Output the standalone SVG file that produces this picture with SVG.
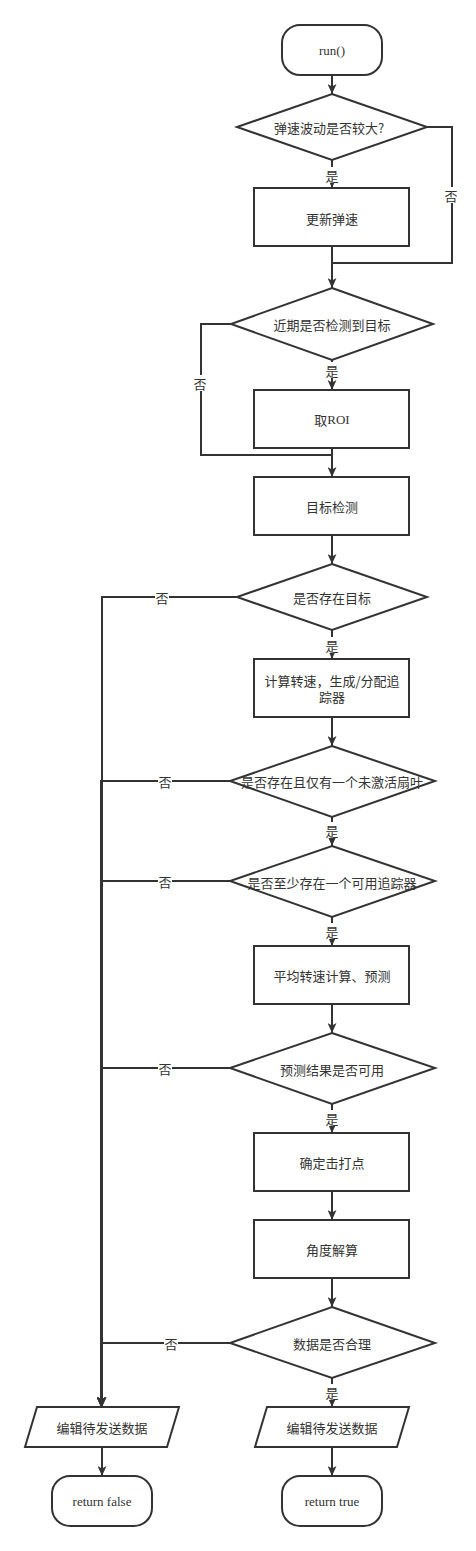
<svg xmlns="http://www.w3.org/2000/svg" width="476" height="1551" viewBox="0 0 476 1551">
<style>
.s{fill:#fff;stroke:#333;stroke-width:2}
.t{font-family:"Noto Sans CJK SC","Noto Sans",sans-serif;font-size:13px;fill:#333;text-anchor:middle;dominant-baseline:central}
.r{font-family:"Liberation Serif",serif;font-size:13px;fill:#333;text-anchor:middle;dominant-baseline:central}
.c{fill:none;stroke:#333;stroke-width:2}
.lb{fill:#fff}
</style>
<defs>
<marker id="a" viewBox="0 0 10 9" refX="10" refY="4.5" markerWidth="10" markerHeight="9" markerUnits="userSpaceOnUse" orient="auto">
<path d="M0,0 L10,4.5 L0,9 L2.5,4.5 z" fill="#333"/>
</marker>
</defs>
<rect width="476" height="1551" fill="#fff"/>
<g id="connectors">
<path class="c" d="M332,75 V94" marker-end="url(#a)"/>
<path class="c" d="M332,160 V188" marker-end="url(#a)"/>
<path class="c" d="M427,127 H452 V263 H332"/>
<path class="c" d="M332,246 V288" marker-end="url(#a)"/>
<path class="c" d="M332,360 V390" marker-end="url(#a)"/>
<path class="c" d="M231,324 H201 V455 H332"/>
<path class="c" d="M332,448 V477" marker-end="url(#a)"/>
<path class="c" d="M332,535 V564" marker-end="url(#a)"/>
<path class="c" d="M237,597 H102 V1407" marker-end="url(#a)"/>
<path class="c" d="M332,630 V659" marker-end="url(#a)"/>
<path class="c" d="M332,717 V746" marker-end="url(#a)"/>
<path class="c" d="M230,781 H101 V1407" marker-end="url(#a)"/>
<path class="c" d="M332,817 V846" marker-end="url(#a)"/>
<path class="c" d="M230,881 H101 V1407" marker-end="url(#a)"/>
<path class="c" d="M332,917 V946" marker-end="url(#a)"/>
<path class="c" d="M332,1004 V1033" marker-end="url(#a)"/>
<path class="c" d="M230,1068 H101 V1407" marker-end="url(#a)"/>
<path class="c" d="M332,1104 V1133" marker-end="url(#a)"/>
<path class="c" d="M332,1191 V1220" marker-end="url(#a)"/>
<path class="c" d="M332,1278 V1307" marker-end="url(#a)"/>
<path class="c" d="M230,1343 H102 V1407" marker-end="url(#a)"/>
<path class="c" d="M332,1378 V1407" marker-end="url(#a)"/>
<path class="c" d="M102,1447 V1476" marker-end="url(#a)"/>
<path class="c" d="M332,1447 V1476" marker-end="url(#a)"/>
<g id="labels">
<rect class="lb" x="325" y="167" width="14" height="16"/><text class="t" x="332" y="175">是</text>
<rect class="lb" x="444" y="187" width="14" height="16"/><text class="t" x="451" y="195">否</text>
<rect class="lb" x="325" y="362" width="14" height="16"/><text class="t" x="332" y="370">是</text>
<rect class="lb" x="193" y="375" width="14" height="16"/><text class="t" x="200" y="383">否</text>
<rect class="lb" x="155" y="589" width="14" height="16"/><text class="t" x="162" y="597">否</text>
<rect class="lb" x="325" y="637" width="14" height="16"/><text class="t" x="332" y="645">是</text>
<rect class="lb" x="158" y="773" width="14" height="16"/><text class="t" x="165" y="781">否</text>
<rect class="lb" x="325" y="822" width="14" height="16"/><text class="t" x="332" y="830">是</text>
<rect class="lb" x="158" y="873" width="14" height="16"/><text class="t" x="165" y="881">否</text>
<rect class="lb" x="325" y="923" width="14" height="16"/><text class="t" x="332" y="931">是</text>
<rect class="lb" x="158" y="1060" width="14" height="16"/><text class="t" x="165" y="1068">否</text>
<rect class="lb" x="325" y="1110" width="14" height="16"/><text class="t" x="332" y="1118">是</text>
<rect class="lb" x="164" y="1335" width="14" height="16"/><text class="t" x="171" y="1343">否</text>
<rect class="lb" x="325" y="1384" width="14" height="16"/><text class="t" x="332" y="1392">是</text>
</g>
</g>
<g id="start"><rect class="s" x="282" y="25" width="100" height="50" rx="18"/><text class="r" x="332" y="50">run()</text></g>
<g id="d1"><polygon class="s" points="332,94 427,127 332,160 237,127"/><text class="t" x="329" y="127">弹速波动是否较大?</text></g>
<g id="n1"><rect class="s" x="254" y="188" width="155" height="58"/><text class="t" x="332" y="218">更新弹速</text></g>
<g id="d2"><polygon class="s" points="332,288 433,324 332,360 231,324"/><text class="t" x="332" y="324">近期是否检测到目标</text></g>
<g id="n2"><rect class="s" x="254" y="390" width="155" height="58"/><text class="t" x="332" y="419"><tspan>取</tspan><tspan font-family="Liberation Serif,serif">ROI</tspan></text></g>
<g id="n3"><rect class="s" x="254" y="477" width="155" height="58"/><text class="t" x="332" y="506">目标检测</text></g>
<g id="d3"><polygon class="s" points="332,564 427,597 332,630 237,597"/><text class="t" x="332" y="597">是否存在目标</text></g>
<g id="n4"><rect class="s" x="254" y="659" width="155" height="58"/><text class="t" x="332" y="680">计算转速，生成/分配追</text><text class="t" x="332" y="696">踪器</text></g>
<g id="d4"><polygon class="s" points="332,746 435,781 332,817 230,781"/><text class="t" x="332" y="781">是否存在且仅有一个未激活扇叶</text></g>
<g id="d5"><polygon class="s" points="332,846 435,881 332,917 230,881"/><text class="t" x="332" y="882">是否至少存在一个可用追踪器</text></g>
<g id="n5"><rect class="s" x="254" y="946" width="155" height="58"/><text class="t" x="332" y="975">平均转速计算、预测</text></g>
<g id="d6"><polygon class="s" points="332,1033 435,1068 332,1104 230,1068"/><text class="t" x="332" y="1069">预测结果是否可用</text></g>
<g id="n6"><rect class="s" x="254" y="1133" width="155" height="58"/><text class="t" x="332" y="1162">确定击打点</text></g>
<g id="n7"><rect class="s" x="254" y="1220" width="155" height="58"/><text class="t" x="332" y="1249">角度解算</text></g>
<g id="d7"><polygon class="s" points="332,1307 435,1343 332,1378 230,1343"/><text class="t" x="332" y="1343">数据是否合理</text></g>
<g id="p1"><polygon class="s" points="37,1407 179,1407 167,1447 25,1447"/><text class="t" x="102" y="1427">编辑待发送数据</text></g>
<g id="p2"><polygon class="s" points="267,1407 409,1407 397,1447 255,1447"/><text class="t" x="332" y="1427">编辑待发送数据</text></g>
<g id="endf"><rect class="s" x="52" y="1476" width="100" height="50" rx="18"/><text class="r" x="102" y="1501">return false</text></g>
<g id="endt"><rect class="s" x="282" y="1476" width="100" height="50" rx="18"/><text class="r" x="332" y="1501">return true</text></g>
</svg>
